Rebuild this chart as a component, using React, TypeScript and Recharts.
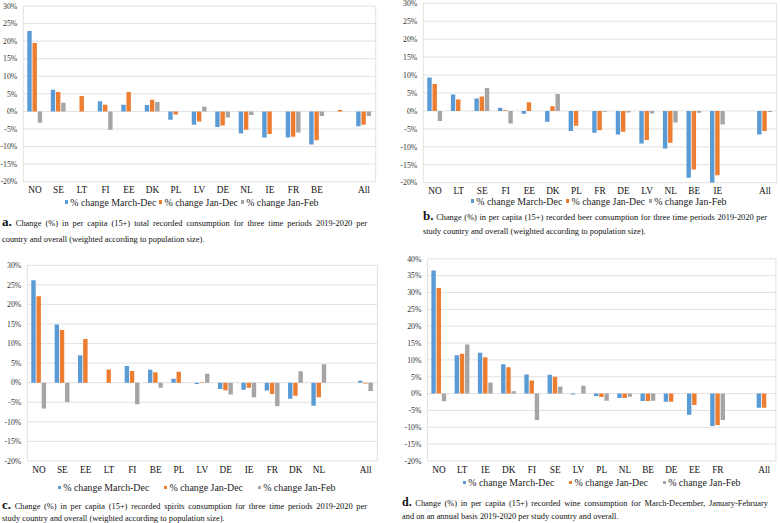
import React from 'react'
import { BarChart, Bar, XAxis, YAxis, CartesianGrid, Legend } from 'recharts'

const SERIF = '"Liberation Serif", "Times New Roman", serif'
const BLUE = '#5B9BD5'
const ORANGE = '#ED7D31'
const GRAY = '#A5A5A5'
const GRID = '#D9D9D9'

const SERIES = [
  { key: 'march', name: '% change March-Dec', color: BLUE },
  { key: 'janDec', name: '% change Jan-Dec', color: ORANGE },
  { key: 'janFeb', name: '% change Jan-Feb', color: GRAY },
]

const ticks30 = [-20, -15, -10, -5, 0, 5, 10, 15, 20, 25, 30]
const ticks40 = [-20, -15, -10, -5, 0, 5, 10, 15, 20, 25, 30, 35, 40]

// a. total
const catsA = ['NO', 'SE', 'LT', 'FI', 'EE', 'DK', 'PL', 'LV', 'DE', 'NL', 'IE', 'FR', 'BE', '', 'All']
const marchA = [22.9, 6.2, null, 2.9, 1.9, 1.8, -2.4, -3.8, -4.4, -6.3, -7.4, -7.4, -9.4, null, -4.2]
const janDecA = [19.5, 5.5, 4.4, 1.9, 5.5, 3.3, -0.9, -2.9, -4.0, -5.2, -6.4, -7.2, -8.2, 0.4, -3.8]
const janFebA = [-3.2, 2.5, null, -5.2, null, 2.7, null, 1.3, -1.7, -1.0, null, -6.0, -1.3, null, -1.3]

// b. beer
const catsB = ['NO', 'LT', 'SE', 'FI', 'EE', 'DK', 'PL', 'FR', 'DE', 'LV', 'NL', 'BE', 'IE', '', 'All']
const marchB = [9.3, 4.6, 3.5, 0.9, -0.8, -3.0, -5.6, -6.1, -6.6, -9.1, -10.5, -18.6, -20.0, null, -6.6]
const janDecB = [7.5, 3.2, 4.0, 0.2, 2.4, 1.3, -4.1, -5.4, -5.8, -8.1, -8.9, -16.3, -17.9, null, -5.6]
const janFebB = [-2.8, null, 6.4, -3.5, null, 4.7, null, -0.2, -0.4, -0.7, -3.2, -0.5, -3.8, null, -0.3]

// c. spirits
const catsC = ['NO', 'SE', 'EE', 'LT', 'FI', 'BE', 'PL', 'LV', 'DE', 'IE', 'FR', 'DK', 'NL', '', 'All']
const marchC = [26.2, 14.9, 7.0, null, 4.3, 3.3, 1.0, -0.3, -1.6, -1.8, -2.0, -4.1, -5.9, null, 0.5]
const janDecC = [22.1, 13.5, 11.2, 3.4, 3.0, 2.7, 2.8, 0.1, -1.9, -1.3, -2.9, -3.3, -3.7, null, -0.2]
const janFebC = [-6.6, -4.9, null, null, -5.5, -1.3, null, 2.3, -3.0, -3.7, -6.0, 2.9, 4.7, null, -2.1]

// d. wine
const catsD = ['NO', 'LT', 'IE', 'DK', 'FI', 'SE', 'LV', 'PL', 'NL', 'BE', 'DE', 'EE', 'FR', '', 'All']
const marchD = [36.5, 11.4, 12.1, 8.7, 5.7, 5.6, -0.3, -0.7, -1.3, -2.2, -2.4, -6.3, -9.6, null, -4.2]
const janDecD = [31.3, 11.8, 10.8, 7.8, 3.9, 5.0, null, -1.0, -1.3, -2.2, -2.4, -3.4, -9.3, null, -4.2]
const janFebD = [-2.3, 14.6, 3.3, 0.7, -7.8, 2.1, 2.3, -2.1, -0.9, -2.1, null, null, -7.8, null, null]

const panels = [
  {
    letter: 'a.', letterSize: 13, cats: catsA, march: marchA, janDec: janDecA, janFeb: janFebA, ticks: ticks30,
    left: 0, top: 0, width: 385, plotLeft: 23.3, plotRight: 375.7, plotTop: 6, plotBottom: 181.7,
    legendY: 202, legendX: 65, legendGap: 3,
    capX: 2, capEnd: 367, capY1: 223, capY2: 240,
    line1: 'Change (%) in per capita (15+) total recorded consumption for three time periods 2019-2020 per',
    line2: 'country and overall (weighted according to population size).',
  },
  {
    letter: 'b.', letterSize: 13, cats: catsB, march: marchB, janDec: janDecB, janFeb: janFebB, ticks: ticks30,
    left: 390, top: 0, width: 390, plotLeft: 423.3, plotRight: 776.7, plotTop: 3.3, plotBottom: 182.7,
    legendY: 201, legendX: 471, legendGap: 4,
    capX: 423, capEnd: 767, capY1: 217, capY2: 232,
    line1: 'Change (%) in per capita (15+) recorded beer consumption for three time periods 2019-2020 per',
    line2: 'study country and overall (weighted according to population size).',
  },
  {
    letter: 'c.', letterSize: 13, cats: catsC, march: marchC, janDec: janDecC, janFeb: janFebC, ticks: ticks30,
    left: 0, top: 258, width: 385, plotLeft: 27.3, plotRight: 377.4, plotTop: 265.3, plotBottom: 461,
    legendY: 487.3, legendX: 58, legendGap: 15,
    capX: 2, capEnd: 367, capY1: 506, capY2: 519.3,
    line1: 'Change (%) in per capita (15+) recorded spirits consumption for three time periods 2019-2020 per',
    line2: 'study country and overall (weighted according to population size).',
  },
  {
    letter: 'd.', letterSize: 12, cats: catsD, march: marchD, janDec: janDecD, janFeb: janFebD, ticks: ticks40,
    left: 390, top: 252, width: 390, plotLeft: 427.4, plotRight: 775.9, plotTop: 258.8, plotBottom: 461,
    legendY: 482.3, legendX: 463, legendGap: 15,
    capX: 402, capEnd: 768, capY1: 503.3, capY2: 516.7,
    line1: 'Change (%) in per capita (15+) recorded wine consumption for March-December, January-February',
    line2: 'and on an annual basis 2019-2020 per study country and overall.',
  },
]

type PanelCfg = (typeof panels)[number]

const LEGEND_H = 12

function Panel({ p }: { p: PanelCfg }) {
  const rows = p.cats.map((cat, i) => ({
    cat,
    march: p.march[i],
    janDec: p.janDec[i],
    janFeb: p.janFeb[i],
  }))
  const height = p.legendY + LEGEND_H / 2 - p.top
  const xAxisH = height - LEGEND_H - (p.plotBottom - p.top)
  const domain = [p.ticks[0], p.ticks[p.ticks.length - 1]]

  const legend = () => (
    <div
      style={{
        height: LEGEND_H, display: 'flex', alignItems: 'center', gap: p.legendGap,
        paddingLeft: p.legendX - p.left, fontFamily: SERIF, fontSize: 9.9, color: '#222', whiteSpace: 'nowrap',
      }}
    >
      {SERIES.map((s) => (
        <span key={s.key} style={{ display: 'flex', alignItems: 'center' }}>
          <span style={{ width: 3.2, height: 3.2, background: s.color, marginRight: 2 }} />
          {s.name}
        </span>
      ))}
    </div>
  )

  return (
    <>
      <div style={{ position: 'absolute', left: p.left, top: p.top }}>
        <BarChart
          width={p.width}
          height={height}
          data={rows}
          margin={{ top: p.plotTop - p.top, right: p.left + p.width - p.plotRight, left: 0, bottom: 0 }}
          barGap={0.8}
          barSize={4.4}
        >
          <CartesianGrid
            stroke={GRID}
            strokeWidth={0.8}
            verticalCoordinatesGenerator={({ offset }: any) => [offset.left, offset.left + offset.width]}
          />
          <XAxis
            dataKey="cat"
            interval={0}
            axisLine={false}
            tickLine={false}
            tickSize={3}
            tickMargin={2}
            height={xAxisH}
            tick={{ fontSize: 9.3, fill: '#111', fontFamily: SERIF }}
          />
          <YAxis
            width={p.plotLeft - p.left}
            domain={domain}
            ticks={p.ticks}
            interval={0}
            allowDataOverflow
            axisLine={false}
            tickLine={false}
            tickSize={4}
            tickMargin={2}
            tickFormatter={(v: number) => `${v}%`}
            tick={{ fontSize: 7.8, fill: '#333', fontFamily: SERIF }}
          />
          <Legend
            verticalAlign="bottom"
            content={legend}
            wrapperStyle={{ left: 0, bottom: 0, width: p.width }}
          />
          {SERIES.map((s) => (
            <Bar key={s.key} dataKey={s.key} name={s.name} fill={s.color} isAnimationActive={false} />
          ))}
        </BarChart>
      </div>
      <div
        style={{
          position: 'absolute', left: p.capX, top: p.capY1 - 6, width: p.capEnd - p.capX,
          fontFamily: SERIF, fontSize: 8.4, lineHeight: '10px', color: '#111',
          textAlign: 'justify', textAlignLast: 'justify',
        }}
      >
        <span style={{ fontSize: p.letterSize, fontWeight: 'bold', lineHeight: '10px' }}>{p.letter}</span> {p.line1}
      </div>
      <div
        style={{
          position: 'absolute', left: p.capX, top: p.capY2 - 5, fontFamily: SERIF, fontSize: 8.4,
          lineHeight: '10px', color: '#111', whiteSpace: 'nowrap',
        }}
      >
        {p.line2}
      </div>
    </>
  )
}

export default function App() {
  return (
    <div style={{ position: 'absolute', left: 0, top: 0, width: 780, height: 523, background: '#fff', overflow: 'hidden' }}>
      {panels.map((p) => (
        <Panel key={p.letter} p={p} />
      ))}
    </div>
  )
}
